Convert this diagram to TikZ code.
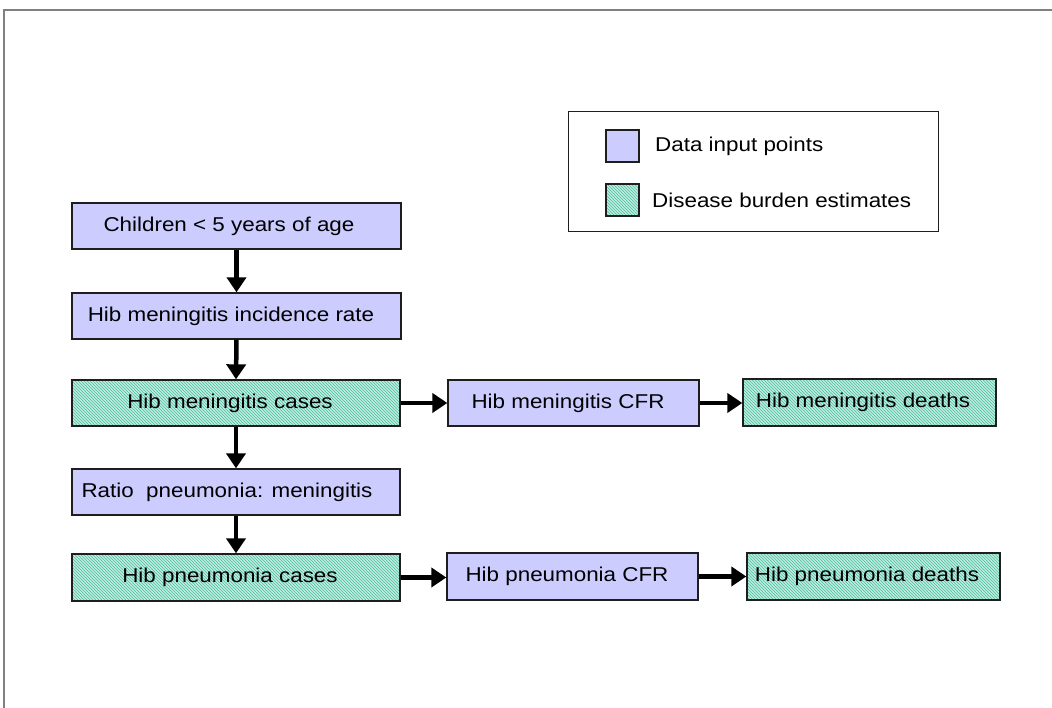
\documentclass[tikz,border=0pt]{standalone}
\usepackage{fontspec}
\setmainfont{Liberation Sans}[FakeStretch=1.12]
\usetikzlibrary{arrows.meta,patterns}
\definecolor{inputfill}{RGB}{204,204,255}
\definecolor{estbase}{RGB}{190,236,222}
\definecolor{estline}{RGB}{80,190,160}
\definecolor{framegray}{RGB}{128,128,128}
\definecolor{boxline}{RGB}{30,30,30}
\tikzset{
  x=1pt,y=1pt,
  lbl/.style={font=\fontsize{20}{24}\selectfont, text=black, inner sep=0pt},
  inbox/.style={draw=boxline, line width=1.3pt, fill=inputfill, inner sep=0pt, minimum height=46pt},
  estbox/.style={draw=boxline, line width=1.3pt, inner sep=0pt, minimum height=46pt,
    preaction={fill=estbase}, pattern=north west lines, pattern color=estline},
  flow/.style={line width=4.5pt, -{Triangle[width=19pt,length=15pt]}},
}
\begin{document}
\begin{tikzpicture}
\useasboundingbox (0,0) rectangle (1052,708);
% frame
\draw[framegray, line width=1.5pt] (4,0) -- (4,698) -- (1052,698);

% legend
\node[draw=boxline, line width=1pt, minimum width=370pt, minimum height=120pt, inner sep=0pt] (legend) at (753,536) {};
\node[inbox, minimum width=33pt, minimum height=32pt] (sw1) at (622.5,562) {};
\node[estbox, minimum width=33pt, minimum height=32pt] (sw2) at (622.5,508) {};
\node[lbl, anchor=west] (lt1) at (655,562) {Data input points};
\node[lbl, anchor=west] (lt2) at (652,508) {Disease burden estimates};

% boxes
\node[inbox, minimum width=329pt] (child) at (236.5,482) {};
\node[lbl] (tchild) at (229,482) {Children {<} 5 years of age};
\node[inbox, minimum width=329pt] (incid) at (236.5,392) {};
\node[lbl] (tincid) at (231,392) {Hib meningitis incidence rate};
\node[estbox, minimum width=328pt, minimum height=46pt] (mcase) at (236,305) {};
\node[lbl] (tmcase) at (230,305) {Hib meningitis cases};
\node[inbox, minimum width=251pt] (mcfr) at (573.5,305) {};
\node[lbl] (tmcfr) at (568,305) {Hib meningitis CFR};
\node[estbox, minimum width=253pt, minimum height=47pt] (mdeath) at (869.5,305.5) {};
\node[lbl] (tmdeath) at (863,305.5) {Hib meningitis deaths};
\node[inbox, minimum width=328pt] (ratio) at (236,216) {};
\node[lbl] (tratio) at (227,216) {Ratio\ \ pneumonia: meningitis};
\node[estbox, minimum width=328pt, minimum height=47pt] (pcase) at (236,130.5) {};
\node[lbl] (tpcase) at (230,130.5) {Hib pneumonia cases};
\node[inbox, minimum width=251pt, minimum height=47pt] (pcfr) at (572.5,131.5) {};
\node[lbl] (tpcfr) at (567,131.5) {Hib pneumonia CFR};
\node[estbox, minimum width=253pt, minimum height=47pt] (pdeath) at (873.5,131.5) {};
\node[lbl] (tpdeath) at (867,131.5) {Hib pneumonia deaths};

% arrows
\draw[flow] (child.south) -- (incid.north);
\draw[flow] (incid.south) -- (mcase.north);
\draw[flow] (mcase.south) -- (ratio.north);
\draw[flow] (ratio.south) -- (pcase.north);
\draw[flow] (mcase.east) -- (mcfr.west);
\draw[flow] (mcfr.east) -- (mdeath.west |- mcfr.east);
\draw[flow] (pcase.east) -- (pcfr.west |- pcase.east);
\draw[flow] (pcfr.east) -- (pdeath.west);
\end{tikzpicture}
\end{document}
